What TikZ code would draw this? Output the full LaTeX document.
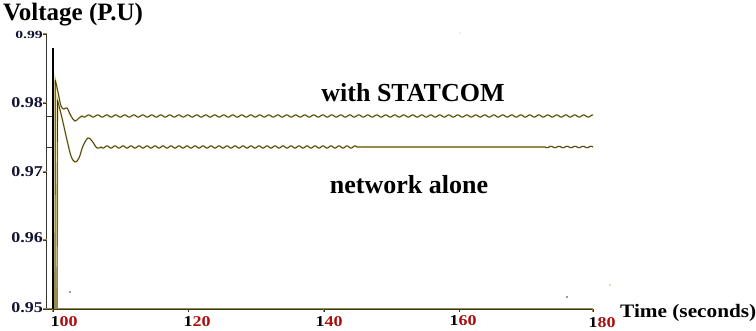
\documentclass[tikz,border=0pt]{standalone}
\usepackage{fontspec}
\setmainfont{LiberationSerif}[Extension=.ttf, UprightFont=*-Regular, BoldFont=*-Bold, ItalicFont=*-Italic, BoldItalicFont=*-BoldItalic]
\definecolor{curvedark}{RGB}{55,55,50}
\definecolor{curveedge}{RGB}{205,185,90}
\definecolor{axisol}{RGB}{150,138,60}
\definecolor{navy}{RGB}{20,20,50}
\definecolor{darkred}{RGB}{170,15,15}
\newcommand{\wlab}[1]{\scalebox{1.2}[1]{#1}}
\begin{document}
\begin{tikzpicture}[x=1pt,y=-1pt,
  curve/.style={line width=0.7pt, draw=curvedark, line join=round,
    preaction={draw=curveedge, line width=1.6pt}},
  axisline/.style={line width=0.6pt, draw=curvedark,
    preaction={draw=axisol, line width=1.4pt}},
  ticklab/.style={font=\fontsize{15}{15}\selectfont\bfseries, text=navy, inner sep=0pt},
  xlab/.style={font=\fontsize{15}{15}\selectfont\bfseries, text=black, inner sep=0pt},
  biglab/.style={font=\fontsize{26}{26}\selectfont\bfseries, text=black, inner sep=0pt},
]
\useasboundingbox (0,0) rectangle (756,331);
\fill[white] (0,0) rectangle (756,331);

% axes
\draw[axisline] (46.5,33) -- (46.5,309);
\draw[axisline] (46.5,309) -- (593,309);
\foreach \yy in {34,103,172,240,309} \draw[axisline] (43,\yy) -- (46.5,\yy);
\foreach \xx in {53,188.5,324,459.5,593} \draw[axisline] (\xx,309) -- (\xx,312);

% y tick labels
\node[ticklab, anchor=east] (y99) at (43,35) {\scalebox{1.43}[1]{\fontsize{11}{11}\selectfont 0.99}};
\node[ticklab, anchor=east] (y98) at (43,103) {\wlab{0.98}};
\node[ticklab, anchor=east] (y97) at (43,172) {\wlab{0.97}};
\node[ticklab, anchor=east] (y96) at (43,238) {\wlab{0.96}};
\node[ticklab, anchor=east] (y95) at (43,308) {\wlab{0.95}};

% x tick labels
\node[xlab] (x100) at (64,322) {\wlab{1\textcolor{darkred}{00}}};
\node[xlab] (x120) at (197,322) {\wlab{1\textcolor{darkred}{20}}};
\node[xlab] (x140) at (329,322) {\wlab{1\textcolor{darkred}{40}}};
\node[xlab] (x160) at (463,321) {\wlab{1\textcolor{darkred}{60}}};
\node[xlab] (x180) at (602,323) {\wlab{1\textcolor{darkred}{80}}};

% titles
\node[font=\fontsize{25}{25}\selectfont\bfseries, anchor=west, inner sep=0pt] (ytitle) at (3,15) {Voltage (P.U)};
\node[font=\fontsize{19}{19}\selectfont\bfseries, anchor=west, inner sep=0pt] (xtitle) at (620,313) {\scalebox{1.12}[1]{Time (seconds)}};
\node[biglab] (lstat) at (413,93) {with STATCOM};
\node[biglab] (lnet) at (409,185) {network alone};

% pre-event levels
\draw[line width=0.8pt, curvedark] (46.5,116) -- (53,116);
\draw[line width=0.8pt, curvedark] (46.5,147) -- (53,147);

% vertical jump at t=100
\draw[line width=2pt, black] (53,48) -- (53,309);

% with STATCOM curve
\draw[curve] (55,309) -- (55.3,80)
  -- plot[smooth, tension=0.6] coordinates {(55.3,80) (58,92) (61,106) (64,109) (67,108) (71,116) (75,121) (79,118) (82,116)}
  -- plot[domain=82:593, samples=450] (\x,{116+1.1*sin(40*mod(\x-82,9))});

% network alone curve
\draw[curve] (57,309) -- (57.5,100)
  -- plot[smooth, tension=0.6] coordinates {(57.5,100) (62,118) (67,140) (71,156) (75,162) (79,158) (83,146) (88,138) (92,141) (97,148) (101,147)}
  -- plot[domain=101:357, samples=300] (\x,{147+1.1*sin(45*mod(\x-101,8))})
  -- (545,147)
  -- plot[domain=545:593, samples=60] (\x,{147+0.7*sin(45*mod(\x-545,8))});

% small specks
\fill[curvedark] (70,292) circle (0.8);
\fill[curvedark] (567,297) circle (0.8);
\fill[curveedge] (610,285) circle (0.8);
\fill[curveedge] (460,33) circle (0.7);
\end{tikzpicture}
\end{document}
